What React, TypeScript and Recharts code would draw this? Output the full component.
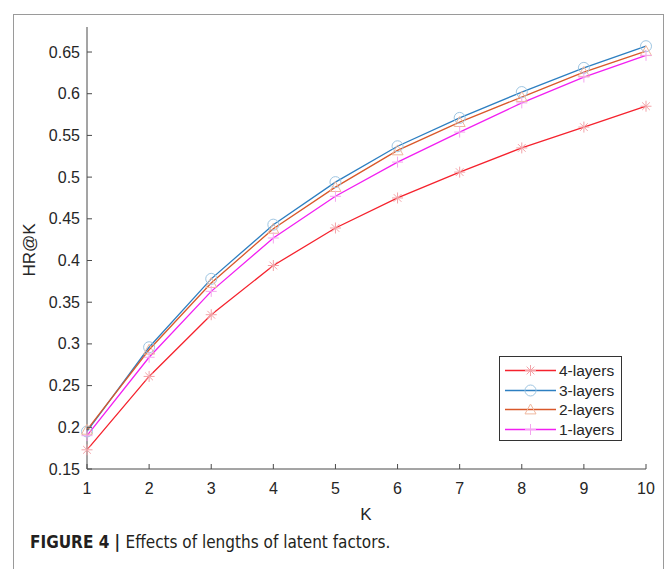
import React from "react";
import { LineChart, Line, XAxis, YAxis } from "recharts";

// values, K = 1..10
const kValues = [1, 2, 3, 4, 5, 6, 7, 8, 9, 10];
const layers4 = [0.173, 0.261, 0.335, 0.394, 0.439, 0.475, 0.506, 0.535, 0.56, 0.585];
const layers3 = [0.195, 0.296, 0.378, 0.443, 0.494, 0.537, 0.571, 0.602, 0.631, 0.657];
const layers2 = [0.197, 0.293, 0.373, 0.438, 0.488, 0.532, 0.566, 0.596, 0.626, 0.651];
const layers1 = [0.19, 0.284, 0.363, 0.427, 0.477, 0.518, 0.554, 0.589, 0.62, 0.646];
const yTicks = [0.15, 0.2, 0.25, 0.3, 0.35, 0.4, 0.45, 0.5, 0.55, 0.6, 0.65];

const data = kValues.map((k, i) => ({
  k,
  l4: layers4[i],
  l3: layers3[i],
  l2: layers2[i],
  l1: layers1[i],
}));

const FONT = "'Liberation Sans', Arial, Helvetica, sans-serif";
const AXIS = "#4a4a4a";
const TICK_LEN = 5;

type Marker = "star" | "circle" | "triangle" | "plus";

const seriesDefs: { key: string; name: string; line: string; mark: string; marker: Marker }[] = [
  { key: "l4", name: "4-layers", line: "#f5222d", mark: "#f2a3a8", marker: "star" },
  { key: "l3", name: "3-layers", line: "#2d7fc1", mark: "#9fc6e2", marker: "circle" },
  { key: "l2", name: "2-layers", line: "#d9582a", mark: "#efb79e", marker: "triangle" },
  { key: "l1", name: "1-layers", line: "#f21ff2", mark: "#f3a6ee", marker: "plus" },
];

const drawMarker = (type: Marker, cx: number, cy: number, color: string, key?: string) => {
  const s = 5.5;
  if (type === "circle")
    return <circle key={key} cx={cx} cy={cy} r={s} fill="none" stroke={color} strokeWidth={1} />;
  if (type === "triangle")
    return (
      <polygon
        key={key}
        points={`${cx},${cy - s} ${cx - s},${cy + s * 0.8} ${cx + s},${cy + s * 0.8}`}
        fill="none"
        stroke={color}
        strokeWidth={1}
      />
    );
  if (type === "plus")
    return (
      <g key={key} stroke={color} strokeWidth={1}>
        <line x1={cx - s} y1={cy} x2={cx + s} y2={cy} />
        <line x1={cx} y1={cy - s} x2={cx} y2={cy + s} />
      </g>
    );
  const d = s * 0.7;
  return (
    <g key={key} stroke={color} strokeWidth={1}>
      <line x1={cx - s} y1={cy} x2={cx + s} y2={cy} />
      <line x1={cx} y1={cy - s} x2={cx} y2={cy + s} />
      <line x1={cx - d} y1={cy - d} x2={cx + d} y2={cy + d} />
      <line x1={cx - d} y1={cy + d} x2={cx + d} y2={cy - d} />
    </g>
  );
};

const makeDot = (type: Marker, color: string) => (props: any) => {
  const { cx, cy, index } = props;
  if (cx == null || cy == null) return <g key={index} />;
  return drawMarker(type, cx, cy, color, `m${index}`);
};

const LeftTick = (props: any) => {
  const { x, y, payload } = props;
  return (
    <g>
      <line x1={x} y1={y} x2={x + TICK_LEN} y2={y} stroke={AXIS} />
      <text x={x - 7} y={y} dy={5.5} textAnchor="end" fontSize={16} fill="#262626" fontFamily={FONT}>
        {String(payload.value)}
      </text>
    </g>
  );
};

const RightTick = (props: any) => {
  const { x, y } = props;
  return <line x1={x} y1={y} x2={x - TICK_LEN} y2={y} stroke={AXIS} />;
};

const BottomTick = (props: any) => {
  const { x, y, payload } = props;
  return (
    <g>
      <line x1={x} y1={y} x2={x} y2={y - TICK_LEN} stroke={AXIS} />
      <text x={x} y={y} dy={24.5} textAnchor="middle" fontSize={16} fill="#262626" fontFamily={FONT}>
        {String(payload.value)}
      </text>
    </g>
  );
};

const TopTick = (props: any) => {
  const { x, y } = props;
  return <line x1={x} y1={y} x2={x} y2={y + TICK_LEN} stroke={AXIS} />;
};

const LegendBox = () => (
  <div
    style={{
      position: "absolute",
      left: 499,
      top: 356,
      width: 123,
      height: 85,
      border: "1px solid #333",
      background: "#fff",
      boxSizing: "border-box",
      paddingTop: 4,
    }}
  >
    {seriesDefs.map((s) => (
      <div key={s.key} style={{ display: "flex", alignItems: "center", height: 19.5 }}>
        <svg width={59} height={19} style={{ flex: "none" }}>
          <line x1={5} y1={9.5} x2={56} y2={9.5} stroke={s.line} strokeWidth={1.3} />
          {drawMarker(s.marker, 30.5, 9.5, s.mark)}
        </svg>
        <span style={{ fontFamily: FONT, fontSize: 15.5, color: "#262626", lineHeight: "19px" }}>{s.name}</span>
      </div>
    ))}
  </div>
);

export default function App() {
  return (
    <div
      style={{
        position: "absolute",
        left: 0,
        top: 0,
        width: 665,
        height: 569,
        overflow: "hidden",
        background: "#fff",
      }}
    >
      {/* figure frame */}
      <div
        style={{
          position: "absolute",
          left: 13,
          top: 14,
          width: 649,
          height: 620,
          border: "1.5px solid #9a9a9a",
        }}
      />
      <LineChart
        width={665}
        height={569}
        data={data}
        margin={{ top: 27, right: 19, left: 47, bottom: 70 }}
        style={{ position: "absolute", left: 0, top: 0 }}
      >
        <XAxis
          dataKey="k"
          type="number"
          domain={[1, 10]}
          ticks={kValues}
          height={30}
          tickSize={0}
          tickMargin={0}
          tickLine={false}
          axisLine={{ stroke: AXIS }}
          tick={<BottomTick />}
          interval={0}
        />
        <XAxis
          xAxisId="top"
          orientation="top"
          dataKey="k"
          type="number"
          domain={[1, 10]}
          ticks={kValues}
          height={0}
          tickSize={0}
          tickMargin={0}
          tickLine={false}
          axisLine={{ stroke: AXIS }}
          tick={<TopTick />}
          interval={0}
        />
        <YAxis
          type="number"
          domain={[0.15, 0.68]}
          ticks={yTicks}
          width={40}
          tickSize={0}
          tickMargin={0}
          tickLine={false}
          axisLine={{ stroke: AXIS }}
          tick={<LeftTick />}
          interval={0}
          allowDataOverflow
        />
        <YAxis
          yAxisId="right"
          orientation="right"
          type="number"
          domain={[0.15, 0.68]}
          ticks={yTicks}
          width={0}
          tickSize={0}
          tickMargin={0}
          tickLine={false}
          axisLine={{ stroke: AXIS }}
          tick={<RightTick />}
          interval={0}
          allowDataOverflow
        />
        {seriesDefs.map((s) => (
          <Line
            key={s.key}
            type="linear"
            dataKey={s.key}
            name={s.name}
            stroke={s.line}
            strokeWidth={1.3}
            dot={makeDot(s.marker, s.mark)}
            activeDot={false}
            isAnimationActive={false}
          />
        ))}
      </LineChart>
      <LegendBox />
      <div
        style={{
          position: "absolute",
          left: 366,
          top: 515,
          transform: "translate(-50%, -50%)",
          fontFamily: FONT,
          fontSize: 17,
          color: "#262626",
        }}
      >
        K
      </div>
      <div
        style={{
          position: "absolute",
          left: 30,
          top: 250,
          transform: "translate(-50%, -50%) rotate(-90deg)",
          fontFamily: FONT,
          fontSize: 17,
          color: "#262626",
          whiteSpace: "nowrap",
        }}
      >
        HR@K
      </div>
      <div
        style={{
          position: "absolute",
          left: 30,
          top: 532,
          fontFamily: "'Liberation Sans Narrow', 'DejaVu Sans Condensed', Arial, sans-serif",
          fontSize: 17,
          color: "#231f20",
          whiteSpace: "nowrap",
        }}
      >
        <b>FIGURE 4 | </b>Effects of lengths of latent factors.
      </div>
    </div>
  );
}
